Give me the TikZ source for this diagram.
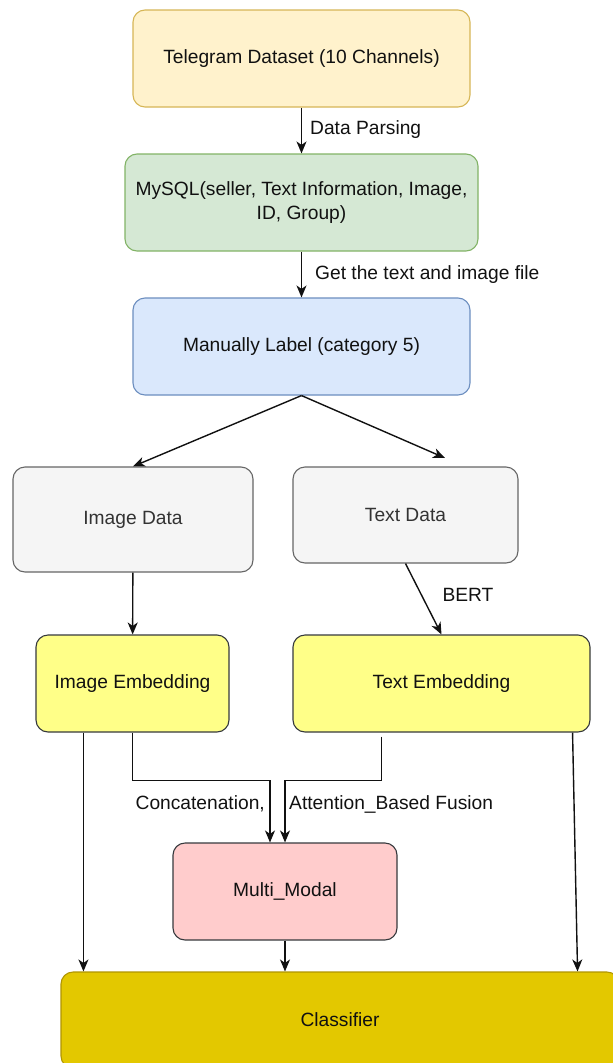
\documentclass[tikz,border=0pt]{standalone}
\usepackage{fontspec}
\setmainfont{Liberation Sans}
\usetikzlibrary{arrows.meta,calc}
\definecolor{tgfill}{HTML}{FFF2CC}\definecolor{tgdraw}{HTML}{D6B656}
\definecolor{sqfill}{HTML}{D5E8D4}\definecolor{sqdraw}{HTML}{82B366}
\definecolor{lbfill}{HTML}{DAE8FC}\definecolor{lbdraw}{HTML}{6C8EBF}
\definecolor{gyfill}{HTML}{F5F5F5}\definecolor{gydraw}{HTML}{666666}\definecolor{gytext}{HTML}{333333}
\definecolor{yefill}{HTML}{FFFF88}\definecolor{yedraw}{HTML}{36393D}
\definecolor{pkfill}{HTML}{FFCCCC}\definecolor{pkdraw}{HTML}{36393D}
\definecolor{clfill}{HTML}{E3C800}\definecolor{cldraw}{HTML}{B09500}
\definecolor{ink}{HTML}{111111}
\begin{document}
\begin{tikzpicture}[x=1pt,y=-1pt,
  box/.style={draw, rounded corners=12pt, line width=1.1pt, align=center, inner sep=0pt, text=ink, font=\fontsize{19.2}{24}\selectfont},
  arr/.style={line width=1.4pt, draw=ink, -{Stealth[length=12pt,width=10pt,inset=3.5pt]}},
  lbl/.style={font=\fontsize{19.2}{24}\selectfont, inner sep=0pt, text=ink}]
\useasboundingbox (0,0) rectangle (613,1063);
\clip (0,0) rectangle (613,1063);
\node[box, fill=tgfill, draw=tgdraw, minimum width=337pt, minimum height=97pt] (tg) at (301.5,58.5) {Telegram Dataset (10 Channels)};
\node[box, fill=sqfill, draw=sqdraw, minimum width=353pt, minimum height=97pt] (sql) at (301.5,202.5) {MySQL(seller, Text Information, Image,\\ ID, Group)};
\node[box, fill=lbfill, draw=lbdraw, minimum width=337pt, minimum height=97pt] (lab) at (301.5,346.5) {Manually Label (category 5)};
\node[box, fill=gyfill, draw=gydraw, text=gytext, minimum width=240pt, minimum height=105pt] (imgd) at (133,519.5) {Image Data};
\node[box, fill=gyfill, draw=gydraw, text=gytext, minimum width=225pt, minimum height=96pt] (txtd) at (405.5,515) {Text Data};
\node[box, fill=yefill, draw=yedraw, minimum width=193pt, minimum height=97pt] (imge) at (132.5,683.5) {Image Embedding};
\node[box, fill=yefill, draw=yedraw, minimum width=297pt, minimum height=97pt] (txte) at (441.5,683.5) {Text Embedding};
\node[box, fill=pkfill, draw=pkdraw, minimum width=224pt, minimum height=97pt] (mm) at (285,891.5) {Multi\_Modal};
\node[box, fill=clfill, draw=cldraw, minimum width=558pt, minimum height=96pt] (cls) at (340,1020) {Classifier};

\draw[arr] (tg) -- (sql);
\node[lbl, anchor=west] (l1) at (310,130) {Data Parsing};
\draw[arr] (sql) -- (lab);
\node[lbl, anchor=west] (l2) at (315,275) {Get the text and image file};
\coordinate (tdend) at (445,458);
\draw[arr] (lab.south) -- (imgd.north);
\draw[arr] (lab.south) -- (tdend);
\draw[arr] (imgd) -- (imge);
\draw[arr] (txtd.south) -- (txte.north);
\node[lbl] (l3) at (468,595) {BERT};

\coordinate (a1) at ($(imge.south west)+(48,0)$);
\draw[arr] (a1) -- (a1 |- cls.north);
\draw[arr] (imge.south) -- ++(0,48) -| ($(mm.north)+(-15,0)$);
\coordinate (a2) at ($(txte.south)+(-60,4)$);
\draw[arr] (a2) -- ++(0,44) -| (mm.north);
\node[lbl, anchor=east] (l4) at (265,804) {Concatenation,};
\node[lbl, anchor=west] (l5) at (289,804) {Attention\_Based Fusion};
\draw[arr] (mm.south) -- (mm.south |- cls.north);
\coordinate (a3) at ($(txte.south east)+(-18,0)$);
\draw[arr] (a3) -- ($(a3 |- cls.north)+(5,0)$);
\end{tikzpicture}
\end{document}
